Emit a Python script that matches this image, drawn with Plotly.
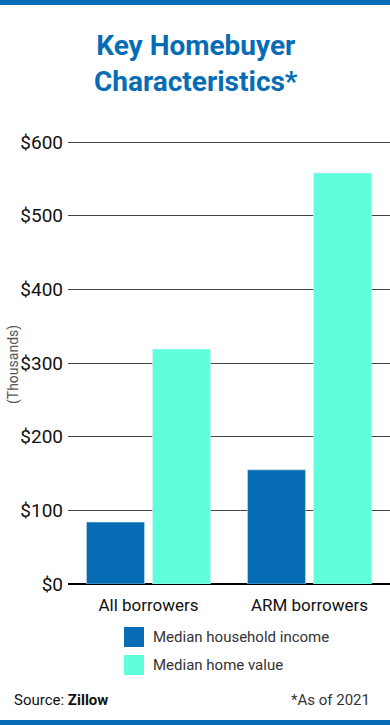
import plotly.graph_objects as go

categories = ["All borrowers", "ARM borrowers"]
income = [84, 155]
home_value = [319, 558]
series_names = ["Median household income", "Median home value"]
tick_vals = [0, 100, 200, 300, 400, 500, 600]
tick_text = ["$0", "$100", "$200", "$300", "$400", "$500", "$600"]

BLUE = "#066db5"
TEAL = "#60ffdb"
FONT = "Roboto, Liberation Sans, sans-serif"

L, T, B, W, H = 68, 138, 141, 390, 725
PW, PH = W - L, H - T - B


def px(x):
    return (x - L) / PW


def py(y):
    return (H - B - y) / PH


fig = go.Figure()
fig.add_trace(go.Bar(x=categories, y=income, name=series_names[0], marker_color=BLUE, showlegend=False))
fig.add_trace(go.Bar(x=categories, y=home_value, name=series_names[1], marker_color=TEAL, showlegend=False))

fig.update_layout(
    width=W, height=H,
    margin=dict(l=L, r=0, t=T, b=B, autoexpand=False),
    paper_bgcolor="white", plot_bgcolor="white",
    barmode="group", bargap=0.18, bargroupgap=0.12,
    showlegend=False,
    xaxis=dict(showgrid=False, showline=False, ticks="", automargin=False, ticklabelstandoff=9,
               tickfont=dict(family=FONT, size=17, color="#111")),
    yaxis=dict(range=[0, 600 * PH / 442], tickvals=tick_vals, ticktext=tick_text, automargin=False,
               showgrid=True, gridcolor="#444", gridwidth=1,
               zeroline=True, zerolinecolor="#000", zerolinewidth=2,
               ticks="", ticklabelstandoff=4,
               tickfont=dict(family=FONT, size=19, color="#111")),
)

fig.add_annotation(text="(Thousands)", xref="paper", yref="paper", x=px(13), y=py(365),
                   textangle=-90, showarrow=False, xanchor="center", yanchor="middle",
                   font=dict(family=FONT, size=14, color="#555"))

# top and bottom bands
fig.add_shape(type="rect", xref="paper", yref="paper", x0=-1, x1=2,
              y0=py(5), y1=py(-2), fillcolor=BLUE, line_width=0, layer="above")
fig.add_shape(type="rect", xref="paper", yref="paper", x0=-1, x1=2,
              y0=py(727), y1=py(720), fillcolor=BLUE, line_width=0, layer="above")

fig.add_annotation(text="<b>Key Homebuyer<br>Characteristics*</b>", xref="paper", yref="paper",
                   x=px(196), y=py(63), showarrow=False, xanchor="center", yanchor="middle",
                   font=dict(family=FONT, size=28, color=BLUE))

# legend
for i, (name, col) in enumerate(zip(series_names, [BLUE, TEAL])):
    yc = 637 + i * 28
    fig.add_shape(type="rect", xref="paper", yref="paper",
                  x0=px(124), x1=px(144), y0=py(yc + 10), y1=py(yc - 10),
                  fillcolor=col, line_width=0)
    fig.add_annotation(text=name, xref="paper", yref="paper",
                       x=px(151), y=py(yc), showarrow=False,
                       xanchor="left", yanchor="middle",
                       font=dict(family=FONT, size=15, color="#333"))

fig.add_annotation(text="Source: <b>Zillow</b>", xref="paper", yref="paper",
                   x=px(12), y=py(700), showarrow=False, xanchor="left", yanchor="middle",
                   font=dict(family=FONT, size=15, color="#111"))
fig.add_annotation(text="*As of 2021", xref="paper", yref="paper",
                   x=px(372), y=py(700), showarrow=False, xanchor="right", yanchor="middle",
                   font=dict(family=FONT, size=15, color="#333"))

fig.write_html("out.html", config={"displayModeBar": False},
               post_script="document.body.style.margin='0';document.body.style.overflow='hidden';")
